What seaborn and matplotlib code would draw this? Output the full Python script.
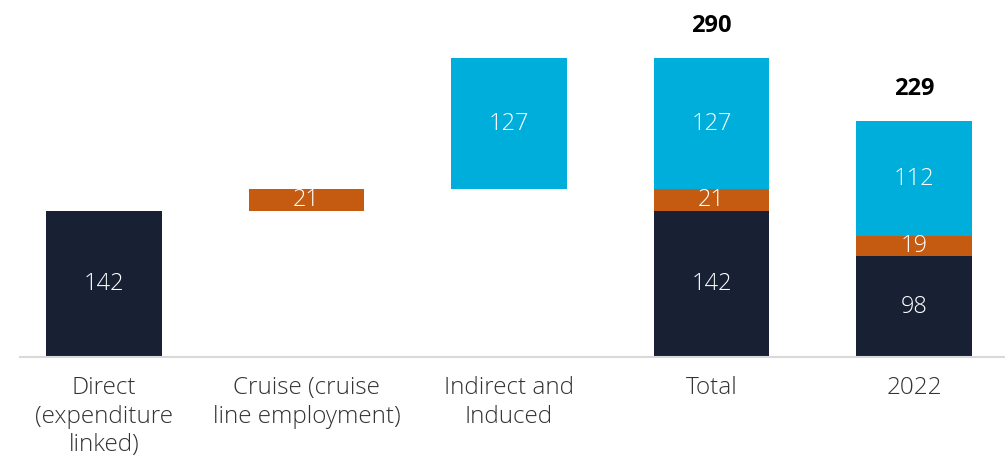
import matplotlib
matplotlib.use("Agg")
import matplotlib.pyplot as plt
import pandas as pd
import seaborn as sns

# --- Data ---
categories = ["Direct\n(expenditure\nlinked)", "Cruise (cruise\nline employment)",
              "Indirect and\nInduced", "Total", "2022"]
direct = [142, 0, 0, 142, 98]
cruise = [0, 21, 0, 21, 19]
indirect = [0, 0, 127, 127, 112]
# waterfall offsets for the first three bars
cruise_base = [0, 142, 0, 142, 98]
indirect_base = [0, 0, 163, 163, 117]
totals = {3: 290, 4: 229}

NAVY = "#182033"
ORANGE = "#c55a11"
CYAN = "#00aedb"

sns.set_theme(style="white")
plt.rcParams["font.family"] = ["Open Sans", "DejaVu Sans"]

fig = plt.figure(figsize=(10.05, 4.59), dpi=100)
ax = fig.add_axes([0.02, 0.2222, 0.98, 0.741])

df = pd.DataFrame({"cat": categories, "direct": direct, "cruise": cruise,
                   "indirect": indirect, "cb": cruise_base, "ib": indirect_base})

layers = [
    ("direct", None, NAVY),
    ("cruise", "cb", ORANGE),
    ("indirect", "ib", CYAN),
]
for col, base, color in layers:
    kw = {}
    if base is not None:
        kw["bottom"] = df[base].values
    sns.barplot(data=df, x="cat", y=col, color=color, width=0.57,
                saturation=1, ax=ax, edgecolor="none", linewidth=0, **kw)

# value labels inside the segments
for i in range(len(categories)):
    segs = [(direct[i], 0), (cruise[i], cruise_base[i]), (indirect[i], indirect_base[i])]
    for v, b in segs:
        if v > 0:
            ax.text(i, b + v / 2, str(v), ha="center", va="center", color="white",
                    fontsize=17, fontweight="light")

for i, t in totals.items():
    ax.text(i, t + 31, str(t), ha="center", va="center", color="black",
            fontsize=17, fontweight="bold")

ax.set_xlim(-0.415, 4.45)
ax.set_ylim(0, 330)
ax.set_xlabel("")
ax.set_ylabel("")
ax.set_yticks([])
for s in ["top", "right", "left"]:
    ax.spines[s].set_visible(False)
ax.spines["bottom"].set_color("#d9d9d9")
ax.spines["bottom"].set_linewidth(1.5)
ax.tick_params(axis="x", length=0, pad=14, labelsize=17.5, labelcolor="#333333")
for lbl in ax.get_xticklabels():
    lbl.set_fontweight("light")
    lbl.set_linespacing(1.25)

fig.savefig("out.png", dpi=100)
